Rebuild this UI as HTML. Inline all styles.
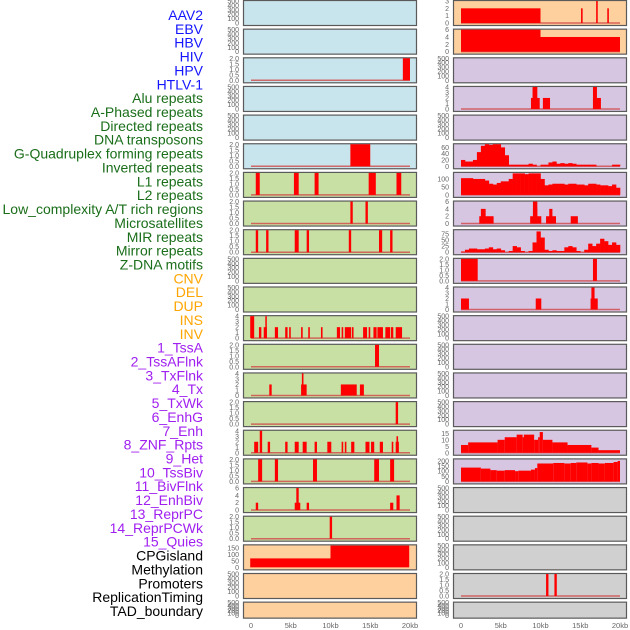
<!DOCTYPE html>
<html><head><meta charset="utf-8"><style>
body{margin:0;background:#fff;width:630px;height:630px;overflow:hidden}
svg{display:block;font-family:"Liberation Sans",sans-serif}
</style></head><body>
<svg id="chart" width="630" height="630" viewBox="0 0 630 630"></svg>
<script>
// ---- labels ----
const labelNames=["AAV2","EBV","HBV","HIV","HPV","HTLV-1","Alu repeats","A-Phased repeats","Directed repeats","DNA transposons","G-Quadruplex forming repeats","Inverted repeats","L1 repeats","L2 repeats","Low_complexity A/T rich regions","Microsatellites","MIR repeats","Mirror repeats","Z-DNA motifs","CNV","DEL","DUP","INS","INV","1_TssA","2_TssAFlnk","3_TxFlnk","4_Tx","5_TxWk","6_EnhG","7_Enh","8_ZNF_Rpts","9_Het","10_TssBiv","11_BivFlnk","12_EnhBiv","13_ReprPC","14_ReprPCWk","15_Quies","CPGisland","Methylation","Promoters","ReplicationTiming","TAD_boundary"];
const labelGroups=[6,13,5,15,5];
const groupColors=["#1515ff","#1a6e1a","#ffa500","#a020f0","#000000"];
// ---- x axis ----
const xTickKb=[0,5,10,15,20];
const xTickLabels=["0","5kb","10kb","15kb","20kb"];
// ---- tick sets ----
const T500=[0,100,200,300,400,500];
const T2=["0.0","0.5","1.0","1.5","2.0"];
const T4=[0,1,2,3,4];
const T6=[0,2,4,6];
const T3=[0,1,2,3];
// ---- series (segments: [startKb,endKb,value]) ----
const hivSegs=[[19.1,20,2]];
const gquadSegs=[[12.5,15,2]];
const invertedSegs=[[0.6,1.1,2],[5.4,6.0,2],[8.0,8.5,2],[14.8,15.7,2],[18.3,18.9,2]];
const l1Segs=[[12.5,12.8,2],[14.4,14.7,2]];
const l2Segs=[[0.6,0.9,2],[1.9,2.2,2],[5.5,6.0,2],[7.0,7.3,2],[12.3,12.6,2],[16.1,16.5,2],[17.5,17.8,2]];
const insSegs=[[-0.1,0.4,4],[1.0,1.3,2],[1.6,2.0,2],[1.8,1.9,4],[3.0,3.4,2],[4.3,4.6,2],[4.8,5.0,2],[6.3,6.5,2],[7.2,7.4,2],[8.8,9.0,2],[10.8,11.2,2],[11.4,11.6,2],[11.8,12.6,2],[12.7,12.9,2],[14.1,14.6,2],[14.8,15.0,2],[15.4,15.8,2],[15.9,16.6,2],[16.9,17.5,2],[17.6,17.9,2],[18.2,19.0,2]];
const tssaSegs=[[15.6,16.1,2]];
const txflnkSegs=[[2.3,2.6,2],[6.3,7.0,2],[6.4,6.6,4],[11.3,13.3,2],[13.7,14.2,2]];
const txwkSegs=[[18.2,18.5,2]];
const enhSegs=[[0.4,0.9,2],[1.1,1.4,4],[2.1,2.4,2],[4.3,4.6,2],[5.5,6.0,2],[6.5,7.0,2],[8.0,8.3,2],[9.6,10.1,2],[11.4,11.6,2],[11.8,12.0,2],[12.6,13.0,2],[14.4,14.9,2],[15.1,15.5,2],[16.2,16.6,2],[17.7,17.9,2],[18.2,18.6,2],[18.3,18.5,3]];
const hetSegs=[[0.9,1.4,2],[3.0,3.4,2],[7.8,8.3,2],[15.5,16.1,2],[17.5,18.0,2]];
const tssbivSegs=[[0.6,0.9,2],[5.5,6.2,2],[5.7,6.0,6],[7.0,7.3,2],[17.5,17.9,2],[18.3,18.7,4]];
const enhbivSegs=[[9.9,10.2,2]];
const cpgSegs=[[-0.1,10,70],[10,19.9,170]];
const aav2Segs=[[0,10,2],[15.1,15.3,2],[17.0,17.2,3],[18.4,18.6,2]];
const ebvSegs=[[0,10,6],[10,20,4]];
const huluSegs=[[8.8,9.9,2],[9.0,9.6,4],[10.3,11.2,2],[16.6,17.6,2],[16.6,17.1,4]];
const lowcSegs=[[2.3,4.1,2],[2.5,3.1,4],[8.7,10.1,2],[9.05,9.6,6],[9.05,9.6,4],[10.7,11.95,2],[11.1,11.5,4],[13.8,14.7,2]];
const zdnaSegs=[[0,2.1,2],[16.6,17.1,2]];
const delSegs=[[0,1,2],[9.4,10.1,2],[16.3,17.2,2],[16.4,16.8,4]];
const znfSegs=[[0,0.9,6],[0.9,4.6,8],[4.6,5.5,10],[5.5,7.0,12],[7.0,7.75,14],[7.75,7.9,12],[7.9,9.2,14],[9.2,9.7,10],[9.7,9.9,12],[9.9,10.3,16],[10.3,11.5,10],[11.5,13.4,8],[13.4,16.4,6],[16.4,17.3,4],[17.3,20,2]];
const tssbivRSegs=[[0,2.5,135],[2.5,3.7,125],[3.7,4.5,110],[4.5,5.5,105],[5.5,6.8,110],[6.8,7.2,100],[7.2,8.8,105],[8.8,9.3,115],[9.3,9.6,130],[9.6,11.6,175],[11.6,13.0,180],[13.0,13.8,175],[13.8,14.5,180],[14.5,15.9,185],[15.9,16.4,175],[16.4,17.3,180],[17.3,18.1,175],[18.1,19.2,180],[19.2,19.7,190],[19.7,20,200]];
const promoterSegs=[[10.7,11.0,2],[11.75,12.05,2]];
// ---- series (0.5kb bins) ----
const gquadBins=[20,15,15,20,45,65,70,68,70,70,60,35,5,5,5,5,5,8,5,0,5,5,12,15,8,10,8,10,8,5,5,5,5,5,0,0,0,0,5,5];
const invertedBins=[105,105,105,100,100,100,90,70,65,75,85,85,100,135,135,135,130,135,135,135,100,60,65,70,70,70,65,70,70,65,65,60,70,70,65,60,60,55,65,45];
const mirrorBins=[3,10,15,15,12,12,15,20,12,15,8,0,5,25,20,5,0,5,40,85,60,10,5,8,5,5,20,25,20,5,0,10,35,25,35,55,45,30,40,30];

const C={blue:"#c8e4ec",green:"#c9e0a5",orange:"#fed09e",purple:"#d6c6e2",gray:"#d0d0d0"};
const leftPanels=[
 ["aav2",C.blue,T500,500,null,null],["ebv",C.blue,T500,500,null,null],["hiv",C.blue,T2,2,hivSegs,null],["hpv",C.blue,T500,500,null,null],["htlv",C.blue,T500,500,null,null],["g-quadruplex",C.blue,T2,2,gquadSegs,null],
 ["l1",C.green,T2,2,invertedSegs,null],["l2",C.green,T2,2,l1Segs,null],["low-complexity",C.green,T2,2,l2Segs,null],["microsat",C.green,T500,500,null,null],["mir",C.green,T500,500,null,null],
 ["ins",C.green,T4,4,insSegs,null],["tssa",C.green,T2,2,tssaSegs,null],["txflnk",C.green,T4,4,txflnkSegs,null],["txwk",C.green,T2,2,txwkSegs,null],["enh",C.green,T4,4,enhSegs,null],["het",C.green,T2,2,hetSegs,null],["tssbiv",C.green,T6,6,tssbivSegs,null],["enhbiv",C.green,T2,2,enhbivSegs,null],
 ["cpgisland",C.orange,[0,50,100,150],172,cpgSegs,null],["methylation",C.orange,T500,500,null,null],["tad",C.orange,T500,500,null,null]];
const rightPanels=[
 ["aav2-r",C.orange,T3,3,aav2Segs,null],["ebv-r",C.orange,T6,6,ebvSegs,null],["hbv-r",C.purple,T500,500,null,null],["alu-r",C.purple,T4,4,huluSegs,null],["aphased-r",C.purple,T500,500,null,null],
 ["gquad-r",C.purple,[0,20,40,60],70,null,gquadBins],["inverted-r",C.purple,[0,50,100],138,null,invertedBins],["lowc-r",C.purple,T6,6,lowcSegs,null],["mirror-r",C.purple,[0,25,50,75],90,null,mirrorBins],
 ["zdna-r",C.purple,T2,2,zdnaSegs,null],["del-r",C.purple,T4,4,delSegs,null],["r12",C.purple,T500,500,null,null],["r13",C.purple,T500,500,null,null],["r14",C.purple,T500,500,null,null],["r15",C.purple,T500,500,null,null],
 ["znf-r",C.purple,[0,5,10,15],17,znfSegs,null],["tssbiv-r",C.purple,[0,50,100,150,200],215,tssbivRSegs,null],["r18",C.gray,T500,500,null,null],["r19",C.gray,T500,500,null,null],["r20",C.gray,T500,500,null,null],
 ["promoters-r",C.gray,T2,2,promoterSegs,null],["r22",C.gray,T500,500,null,null]];

const NS="http://www.w3.org/2000/svg";
const svg=document.getElementById('chart');
function mk(tag,attrs,parent){const e=document.createElementNS(NS,tag);for(const k in attrs)e.setAttribute(k,attrs[k]);(parent||svg).appendChild(e);return e;}

// labels
let idx=0;
labelGroups.forEach((n,g)=>{for(let i=0;i<n;i++){const t=mk('text',{x:203,y:15+idx*13.86+5,'text-anchor':'end','font-size':14,fill:groupColors[g]});


t.textContent=labelNames[idx];idx++;}});

function drawPanel(col,row,p){
 const [name,bg,ticks,ymax,segs,bins]=p;
 const x0=col?453:243,w=173,top=row*28.65,h=row==21?16:25;
 const xs=kb=>x0+8+kb*7.95;
 const ys=v=>top+h-2-v/ymax*(h-3);
 const g=mk('g',{});
 
 
 mk('rect',{x:x0+0.5,y:top+0.5,width:w,height:h,fill:bg,stroke:'#5a5a5a','stroke-width':1.2},g);
 ticks.forEach(tv=>{const v=parseFloat(tv);const t=mk('text',{x:x0-4,y:ys(v)+2.5,'text-anchor':'end','font-size':7,fill:'#666'},g);
  
  
  t.textContent=tv;});
 if(segs||bins){
  if(name!=='cpgisland') mk('line',{x1:xs(0),x2:xs(20),y1:ys(0),y2:ys(0),stroke:'#d04848','stroke-width':1.5,opacity:0.8},g);
  if(segs) segs.forEach(s=>{const r=mk('rect',{x:xs(s[0]),y:ys(s[2]),width:Math.max(1.5,xs(s[1])-xs(s[0])),height:ys(0)-ys(s[2]),fill:'#ff0000'},g);
   
   });
  if(bins) bins.forEach((v,i)=>{if(v<=0)return;const r=mk('rect',{x:xs(i*0.5),y:ys(v),width:xs(0.5)-xs(0)+0.3,height:ys(0)-ys(v),fill:'#ff0000'},g);
   
   });
 }
}
leftPanels.forEach((p,i)=>drawPanel(0,i,p));
rightPanels.forEach((p,i)=>drawPanel(1,i,p));
[0,1].forEach(col=>{xTickKb.forEach((kb,i)=>{const x=(col?453:243)+8+kb*7.95;const t=mk('text',{x:x,y:628,'text-anchor':'middle','font-size':7.5,fill:'#666'});
 
 
 t.textContent=xTickLabels[i];});});
</script>
</body></html>
